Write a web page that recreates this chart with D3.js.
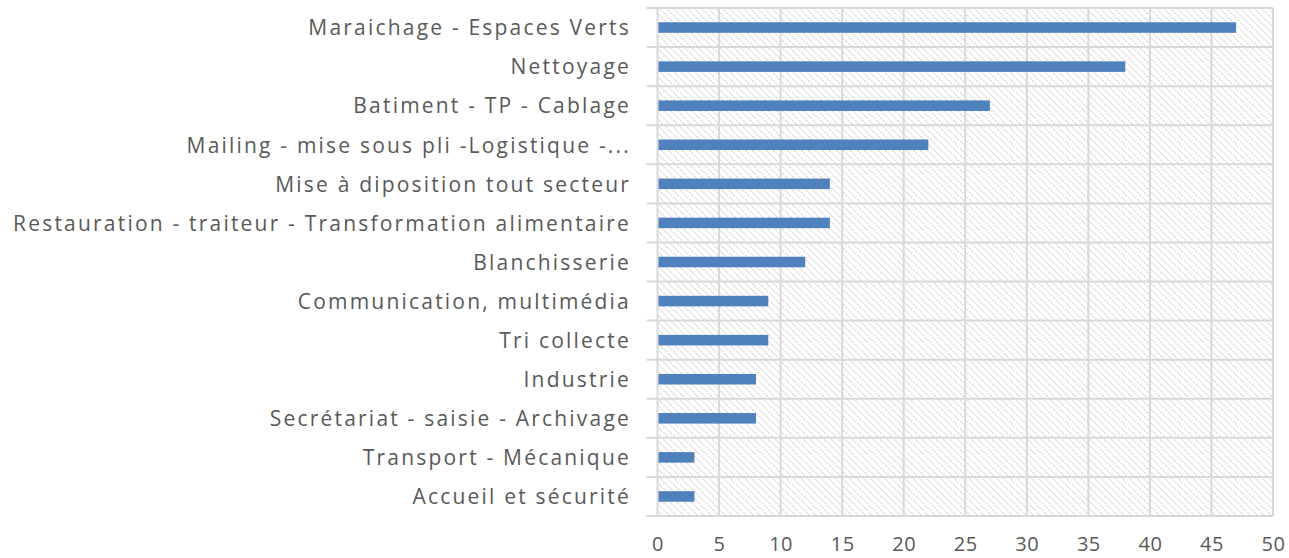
<html>
<script src="https://d3js.org/d3.v7.min.js"></script>
<body style="margin:0">
<script>
    var width = 1289
    var height = 558

    var categories = ['Maraichage - Espaces Verts', 'Nettoyage', 'Batiment - TP - Cablage',
        'Mailing - mise sous pli -Logistique -...', 'Mise à diposition tout secteur',
        'Restauration - traiteur - Transformation alimentaire', 'Blanchisserie',
        'Communication, multimédia', 'Tri collecte ', 'Industrie',
        'Secrétariat - saisie - Archivage', 'Transport - Mécanique', 'Accueil et sécurité']
    var values = [47, 38, 27, 22, 14, 14, 12, 9, 9, 8, 8, 3, 3]
    var xTicks = [0, 5, 10, 15, 20, 25, 30, 35, 40, 45, 50]

    var plotLeft = 657.5, plotRight = 1273, plotTop = 8, plotBottom = 516
    var grid = '#d9d9d9', textColor = '#595959'
    var font = '"Open Sans", sans-serif'

    var svg = d3.select('body').append('svg').attr('width', width).attr('height', height)
    svg.append('rect').attr('width', width).attr('height', height).attr('fill', 'white')

    // hatch pattern for plot background
    var pat = svg.append('defs').append('pattern').attr('id', 'hatch')
        .attr('patternUnits', 'userSpaceOnUse').attr('width', 7).attr('height', 7)
    pat.append('path').attr('d', 'M-1,-1 L8,8 M-1,6 L1,8 M6,-1 L8,1')
        .attr('stroke', '#d6d6d6').attr('stroke-width', 1.2).attr('stroke-dasharray', '2,1')

    var x = d3.scaleLinear().domain([0, 50]).range([plotLeft, plotRight])
    var y = d3.scaleBand().domain(categories).range([plotTop, plotBottom])

    svg.append('rect').attr('x', plotLeft).attr('y', plotTop)
        .attr('width', plotRight - plotLeft).attr('height', plotBottom - plotTop)
        .attr('fill', 'url(#hatch)')

    // vertical gridlines
    svg.append('g').selectAll('line').data(xTicks).enter().append('line')
        .attr('x1', d => x(d)).attr('x2', d => x(d)).attr('y1', plotTop).attr('y2', plotBottom)
        .attr('stroke', grid).attr('stroke-width', 2)

    // horizontal gridlines at band edges
    var edges = categories.map(c => y(c)).concat([plotBottom])
    svg.append('g').selectAll('line').data(edges).enter().append('line')
        .attr('x1', plotLeft - 11).attr('x2', plotRight).attr('y1', d => d).attr('y2', d => d)
        .attr('stroke', grid).attr('stroke-width', 2)

    // bars
    var bh = y.bandwidth() * 0.27
    svg.append('g').selectAll('rect').data(values).enter().append('rect')
        .attr('x', x(0) + 1).attr('y', (d, i) => y(categories[i]) + y.bandwidth() / 2 - bh / 2)
        .attr('width', d => x(d) - x(0) - 1).attr('height', bh)
        .attr('fill', '#4f81bd')

    // category labels
    var yAxis = svg.append('g').attr('transform', 'translate(631,1)')
        .call(d3.axisLeft(y).tickSize(0).tickPadding(0))
    yAxis.select('.domain').remove()
    yAxis.selectAll('text').attr('fill', textColor).style('font-size', '21px')
        .style('font-family', font).style('letter-spacing', '2.2px')

    // value axis labels
    var xAxis = svg.append('g').attr('transform', `translate(0,${plotBottom + 21})`)
        .call(d3.axisBottom(x).tickValues(xTicks).tickSize(0).tickPadding(0))
    xAxis.select('.domain').remove()
    xAxis.selectAll('text').attr('fill', textColor).style('font-size', '20px')
        .style('font-family', font).style('letter-spacing', '0.5px')
</script>
</body>
</html>
